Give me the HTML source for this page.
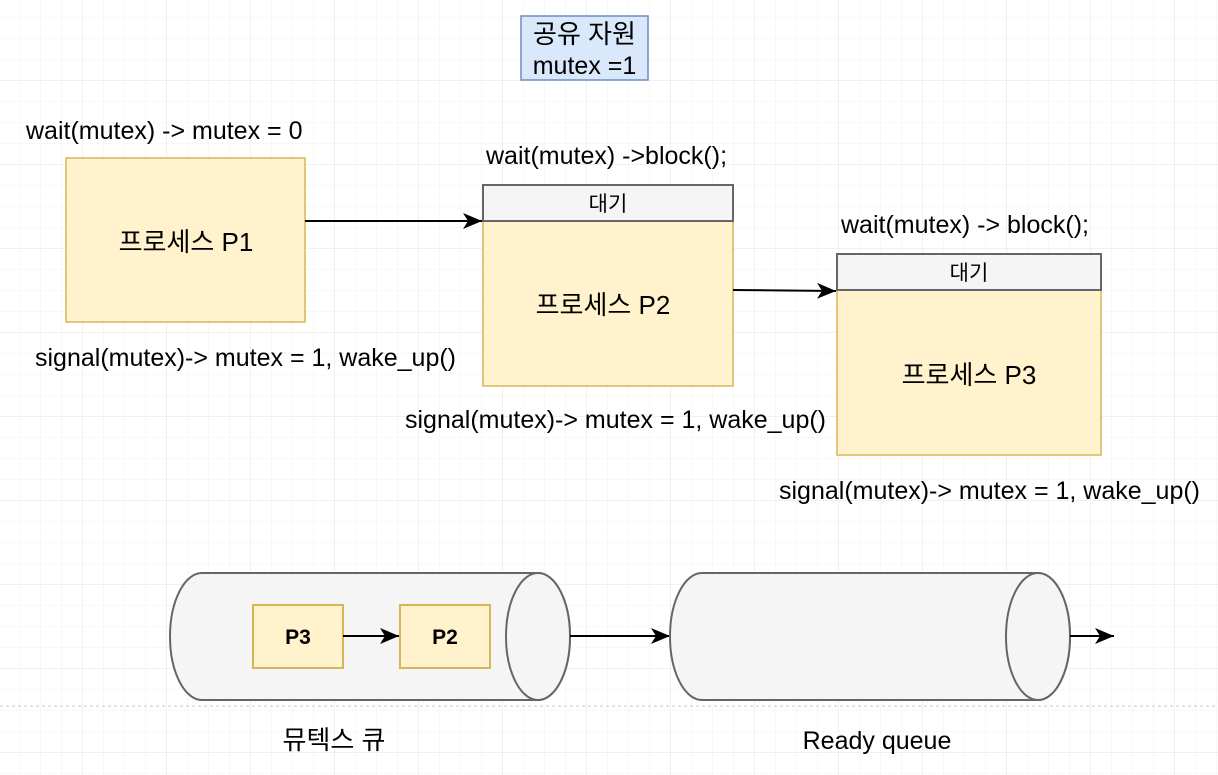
<!DOCTYPE html>
<html><head><meta charset="utf-8"><style>
html,body{margin:0;padding:0;background:#fff}
svg{display:block}
text{font-family:"Liberation Sans","Noto Sans CJK KR",sans-serif;fill:#000}
</style></head><body>
<svg width="1218" height="775" viewBox="0 0 1218 775" xmlns="http://www.w3.org/2000/svg">
<defs>
<pattern id="g" x="19" y="17" width="21" height="21" patternUnits="userSpaceOnUse">
<path d="M0 0H21M0 0V21" stroke="#f0f0f0" stroke-width="1" fill="none"/>
</pattern>
<pattern id="G" x="82" y="80" width="84" height="84" patternUnits="userSpaceOnUse">
<path d="M0 0H84M0 0V84" stroke="#e2e2e2" stroke-width="1" fill="none"/>
</pattern>
<marker id="b" markerWidth="20" markerHeight="18" refX="19" refY="9" orient="auto" markerUnits="userSpaceOnUse"><path d="M0 1L19 9L0 17L5 9Z" fill="#000"/></marker>
</defs>
<rect width="1218" height="775" fill="url(#g)"/>
<rect width="1218" height="775" fill="url(#G)"/>
<line x1="0" y1="706" x2="1218" y2="706" stroke="#c8c8c8" stroke-dasharray="3 3"/>

<rect x="521" y="16" width="127" height="64" fill="#dae8fc" stroke="#6c8ebf" stroke-width="1.5"/>
<text x="584.5" y="43" font-size="26" text-anchor="middle">공유 자원</text>
<text x="584.5" y="74" font-size="25" text-anchor="middle">mutex =1</text>

<text x="26" y="139" font-size="25">wait(mutex) -&gt; mutex = 0</text>
<rect x="66" y="158" width="239" height="164" fill="#fff2cc" stroke="#d6b656" stroke-width="1.5"/>
<text x="186" y="251" font-size="26" text-anchor="middle">프로세스 P1</text>
<text x="35" y="366" font-size="25">signal(mutex)-&gt; mutex = 1, wake_up()</text>
<line x1="305" y1="221" x2="482" y2="221" stroke="#000" stroke-width="2" marker-end="url(#b)"/>

<text x="486" y="164" font-size="25">wait(mutex) -&gt;block();</text>
<rect x="483" y="221" width="250" height="165" fill="#fff2cc" stroke="#d6b656" stroke-width="1.5"/>
<rect x="483" y="185" width="250" height="36" fill="#f5f5f5" stroke="#666" stroke-width="2"/>
<text x="608" y="211" font-size="21" text-anchor="middle" fill="#333">대기</text>
<text x="603" y="314" font-size="26" text-anchor="middle">프로세스 P2</text>
<text x="405" y="428" font-size="25">signal(mutex)-&gt; mutex = 1, wake_up()</text>
<line x1="733" y1="290" x2="836" y2="291" stroke="#000" stroke-width="2" marker-end="url(#b)"/>

<text x="841" y="233" font-size="25">wait(mutex) -&gt; block();</text>
<rect x="837" y="290" width="264" height="165" fill="#fff2cc" stroke="#d6b656" stroke-width="1.5"/>
<rect x="837" y="254" width="264" height="36" fill="#f5f5f5" stroke="#666" stroke-width="2"/>
<text x="969" y="280" font-size="21" text-anchor="middle" fill="#333">대기</text>
<text x="969" y="384" font-size="26" text-anchor="middle">프로세스 P3</text>
<text x="779" y="499" font-size="25">signal(mutex)-&gt; mutex = 1, wake_up()</text>

<path d="M202 573L538 573A32 63.5 0 0 1 538 700L202 700A32 63.5 0 0 1 202 573Z" fill="#f5f5f5" stroke="#666" stroke-width="2"/>
<ellipse cx="538" cy="636.5" rx="32" ry="63.5" fill="#f5f5f5" stroke="#666" stroke-width="2"/>
<rect x="253" y="605" width="90" height="63" fill="#fff2cc" stroke="#d6b656" stroke-width="2"/>
<text x="298" y="644" font-size="21" font-weight="bold" text-anchor="middle">P3</text>
<rect x="400" y="605" width="90" height="63" fill="#fff2cc" stroke="#d6b656" stroke-width="2"/>
<text x="445" y="644" font-size="21" font-weight="bold" text-anchor="middle">P2</text>
<line x1="343" y1="636" x2="399" y2="636" stroke="#000" stroke-width="2" marker-end="url(#b)"/>
<line x1="570" y1="636" x2="670" y2="636" stroke="#000" stroke-width="2" marker-end="url(#b)"/>

<path d="M702 573L1038 573A32 63.5 0 0 1 1038 700L702 700A32 63.5 0 0 1 702 573Z" fill="#f5f5f5" stroke="#666" stroke-width="2"/>
<ellipse cx="1038" cy="636.5" rx="32" ry="63.5" fill="#f5f5f5" stroke="#666" stroke-width="2"/>
<line x1="1070" y1="636" x2="1114" y2="636" stroke="#000" stroke-width="2" marker-end="url(#b)"/>

<text x="334" y="749" font-size="26" text-anchor="middle">뮤텍스 큐</text>
<text x="877" y="749" font-size="25" text-anchor="middle">Ready queue</text>
</svg>
</body></html>
